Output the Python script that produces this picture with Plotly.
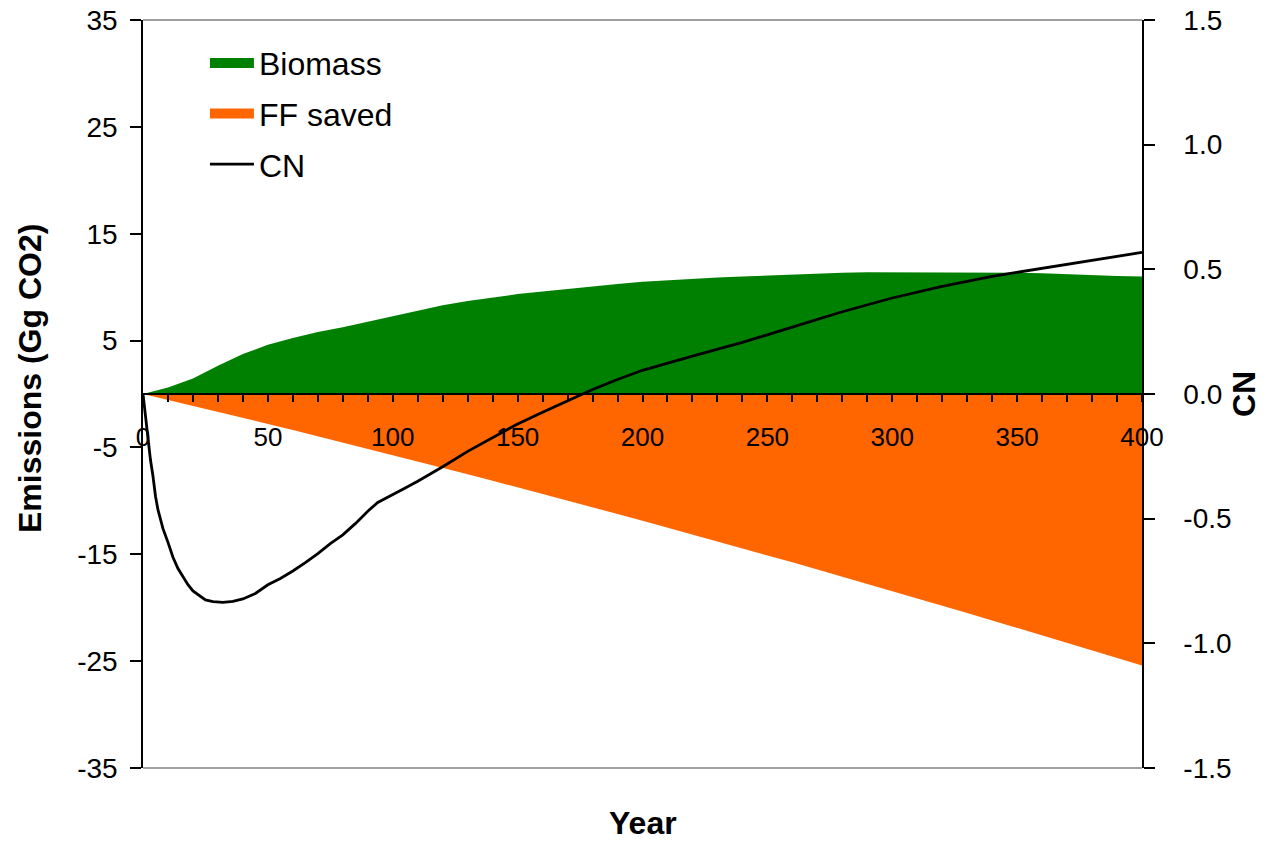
import plotly.graph_objects as go

# ---- data ----
years = [0, 10, 20, 30, 40, 50, 60, 70, 80, 90, 100, 110, 120, 130, 140, 150, 160, 170, 180, 190, 200,
         210, 220, 230, 240, 250, 260, 270, 280, 290, 300, 310, 320, 330, 340, 350, 360, 370, 380, 390, 400]
biomass = [0, 0.6, 1.45, 2.65, 3.75, 4.6, 5.25, 5.8, 6.25, 6.75, 7.25, 7.8, 8.3, 8.7, 9.05, 9.35, 9.6, 9.85, 10.1, 10.3, 10.5,
           10.65, 10.8, 10.9, 11.0, 11.1, 11.2, 11.3, 11.35, 11.4, 11.4, 11.4, 11.4, 11.4, 11.4, 11.35, 11.3, 11.2, 11.1, 11.05, 11.0]
ff_saved = [0, -0.55, -1.11, -1.67, -2.23, -2.80, -3.38, -3.96, -4.54, -5.12, -5.72, -6.31, -6.91, -7.51, -8.12, -8.73,
            -9.35, -9.97, -10.60, -11.23, -11.86, -12.50, -13.14, -13.79, -14.44, -15.10, -15.75, -16.42, -17.09, -17.76,
            -18.44, -19.12, -19.80, -20.49, -21.19, -21.89, -22.59, -23.29, -24.00, -24.71, -25.40]

cn_years = [0, 1, 2, 3, 4, 5, 6, 8, 10, 12, 14, 16, 18, 20, 25, 28, 32, 36, 40, 45, 50, 55, 60, 65, 70, 75, 80, 85,
            90, 94, 100, 105, 110, 120, 130, 140, 150, 160, 170, 180, 190, 200, 220, 240, 260, 280, 300, 320, 340,
            360, 380, 400]
cn = [0, -0.09, -0.18, -0.265, -0.33, -0.41, -0.465, -0.54, -0.595, -0.655, -0.70, -0.735, -0.765, -0.79, -0.826,
      -0.833, -0.836, -0.832, -0.822, -0.80, -0.765, -0.74, -0.71, -0.676, -0.64, -0.60, -0.565, -0.52, -0.47, -0.435,
      -0.405, -0.377, -0.35, -0.292, -0.23, -0.175, -0.12, -0.073, -0.028, 0.018, 0.058, 0.095, 0.152, 0.207, 0.268,
      0.33, 0.385, 0.432, 0.472, 0.505, 0.538, 0.568]

left_ticks = [-35, -25, -15, -5, 5, 15, 25, 35]
left_labels = ["-35", "-25", "-15", "-5", "5", "15", "25", "35"]
right_ticks = [-1.5, -1.0, -0.5, 0.0, 0.5, 1.0, 1.5]
right_labels = ["-1.5", "-1.0", "-0.5", "0.0", "0.5", "1.0", "1.5"]
x_ticks = [0, 50, 100, 150, 200, 250, 300, 350, 400]
x_labels = ["0", "50", "100", "150", "200", "250", "300", "350", "400"]

left_range = [-35, 35]
right_range = [-1.5, 1.5]

GREEN = "#008000"
ORANGE = "#FF6600"
FONT = "Liberation Sans, Arial, sans-serif"

# closed polygons (area between series and zero) built from the data
bio_x = years + years[::-1]
bio_y = biomass + [0] * len(years)
ff_x = years + years[::-1]
ff_y = ff_saved + [0] * len(years)

fig = go.Figure()
fig.add_trace(go.Scatter(x=bio_x, y=bio_y, mode="lines", fill="toself", fillcolor=GREEN,
                         line=dict(width=0, color=GREEN), name="Biomass", showlegend=False, hoverinfo="skip"))
fig.add_trace(go.Scatter(x=ff_x, y=ff_y, mode="lines", fill="toself", fillcolor=ORANGE,
                         line=dict(width=0, color=ORANGE), name="FF saved", showlegend=False, hoverinfo="skip"))
fig.add_trace(go.Scatter(x=cn_years, y=cn, mode="lines", line=dict(width=2.8, color="black"),
                         name="CN", yaxis="y2", showlegend=False))
# legend entries (block swatches for the areas)
fig.add_trace(go.Scatter(x=[None], y=[None], mode="lines", line=dict(width=23, color=GREEN),
                         name="Biomass", legendgroup="a"))
fig.add_trace(go.Scatter(x=[None], y=[None], mode="lines", line=dict(width=23, color=ORANGE),
                         name="FF saved", legendgroup="b"))
fig.add_trace(go.Scatter(x=[None], y=[None], mode="lines", line=dict(width=2.8, color="black"),
                         name="CN", legendgroup="c"))

common_tick = dict(tickwidth=1.5, tickcolor="black", showgrid=False, zeroline=False, automargin=False)

fig.update_layout(
    width=1260, height=833,
    margin=dict(l=135, r=126, t=12, b=73),
    paper_bgcolor="white", plot_bgcolor="white",
    font=dict(family=FONT, color="black", size=28),
    showlegend=True,
    legend=dict(x=0.062, y=0.979, xanchor="left", yanchor="top", bgcolor="rgba(0,0,0,0)",
                font=dict(size=32, family=FONT), tracegroupgap=6, itemwidth=44),
    xaxis=dict(range=[0, 400], anchor="free", position=0.5, showline=True, linecolor="black", linewidth=2,
               ticks="outside", ticklen=7, tickvals=x_ticks, ticktext=x_labels,
               minor=dict(dtick=10, tick0=0, ticks="outside", ticklen=7, tickwidth=1.5, tickcolor="black"),
               tickfont=dict(size=26, family=FONT), ticklabelstandoff=13, ticklabeloverflow="allow",
               **common_tick),
    yaxis=dict(range=left_range, tickvals=left_ticks, ticktext=left_labels, ticks="outside", ticklen=11,
               showline=True, linecolor="black", linewidth=1.5, ticklabeloverflow="allow",
               tickfont=dict(size=28, family=FONT), ticklabelstandoff=7, **common_tick),
    yaxis3=dict(range=left_range, overlaying="y", side="left", anchor="x", tickvals=left_ticks,
                ticks="inside", ticklen=9, showticklabels=False, showline=False, **common_tick),
    yaxis2=dict(range=right_range, overlaying="y", side="right", anchor="x", tickvals=right_ticks,
                ticktext=right_labels, ticks="outside", ticklen=11, ticklabeloverflow="allow",
                showline=True, linecolor="black", linewidth=1.5,
                tickfont=dict(size=28, family=FONT), ticklabelstandoff=23, **common_tick),
    yaxis4=dict(range=right_range, overlaying="y", side="right", anchor="x", tickvals=right_ticks,
                ticks="inside", ticklen=9, showticklabels=False, showline=False, **common_tick),
    shapes=[
        dict(type="line", xref="paper", yref="paper", x0=0, x1=1, y0=1, y1=1, line=dict(color="#808080", width=1.5)),
        dict(type="line", xref="paper", yref="paper", x0=0, x1=1, y0=0, y1=0, line=dict(color="#808080", width=1.5)),
    ],
    annotations=[
        dict(text="<b>Year</b>", xref="paper", yref="paper", x=0.5, y=(768 - 823) / 748, xanchor="center",
             yanchor="middle", showarrow=False, font=dict(size=32, family=FONT)),
        dict(text="<b>Emissions (Gg CO2)</b>", xref="paper", yref="paper", x=(30 - 143) / 999, y=0.52,
             xanchor="center", yanchor="middle", textangle=-90, showarrow=False, font=dict(size=32, family=FONT)),
        dict(text="<b>CN</b>", xref="paper", yref="paper", x=(1244 - 143) / 999, y=0.5,
             xanchor="center", yanchor="middle", textangle=-90, showarrow=False, font=dict(size=32, family=FONT)),
    ],
)

fig.write_html("out.html")
